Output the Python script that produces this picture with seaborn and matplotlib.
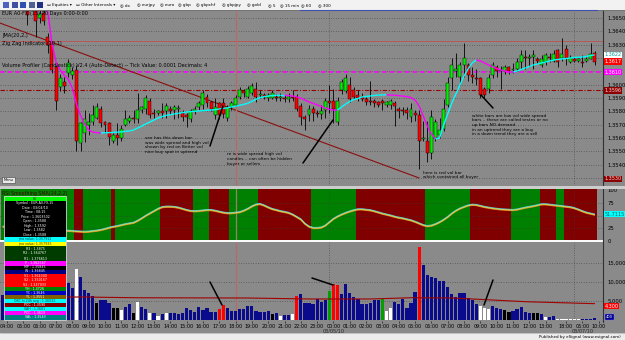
import numpy as np
import pandas as pd
import matplotlib
matplotlib.use("Agg")
import matplotlib.pyplot as plt
import matplotlib.patheffects as pe
from matplotlib.transforms import Affine2D, blended_transform_factory
from matplotlib.lines import Line2D
from matplotlib.patches import Rectangle
from matplotlib.collections import LineCollection
import seaborn as sns

# ------------------------------------------------------------------ data
# 15-minute EUR A0-FX bars, prices in pips above 1.3500
open_pips = [166,165,163,164,162,163,155,162,157,150,154,136,131,113,98,102,109,107,111,56,
             64,70,72,75,82,72,71,58,62,60,70,73,75,74,81,82,88,79,79,80,
             80,82,81,82,79,77,74,80,83,85,91,87,77,86,86,75,83,85,91,95,
             91,94,97,92,92,90,90,91,90,90,89,91,91,84,76,77,82,79,78,81,
             88,88,72,96,95,100,96,92,91,89,88,88,87,88,85,85,86,82,81,81,
             76,79,77,59,58,49,60,62,67,85,105,110,106,115,115,107,105,105,97,97,
             107,113,110,110,113,111,112,117,121,120,121,119,115,117,121,118,126,120,127,117,
             119,118,117,118,119,124]
high_pips = [170,168,167,168,166,167,162,166,160,156,157,139,133,115,108,106,119,113,115,72,
             81,79,85,86,84,73,72,64,71,70,81,77,81,94,84,92,90,82,81,86,
             86,84,85,85,81,79,82,84,88,96,93,88,90,87,90,85,88,92,98,97,
             99,101,102,96,94,94,96,93,94,92,94,96,93,86,77,85,84,81,85,90,
             100,97,91,104,108,106,98,96,94,91,103,89,88,89,88,89,88,83,83,83,
             86,81,81,73,73,81,74,75,89,106,120,124,117,131,116,113,112,106,98,108,
             117,115,114,115,114,116,120,126,126,123,126,121,122,124,124,126,127,135,130,122,
             121,120,122,121,131,125]
low_pips = [162,161,160,161,159,160,145,157,136,146,145,124,109,81,95,94,106,104,50,50,
            57,62,70,74,68,64,55,56,55,58,69,71,71,71,79,78,75,75,77,75,
            75,78,74,75,73,68,72,78,81,82,83,80,74,74,75,73,81,84,89,91,
            90,92,87,90,89,88,89,88,88,87,87,88,80,70,66,73,73,76,74,75,
            79,71,70,93,94,87,89,88,88,85,85,83,83,81,83,82,69,75,77,74,
            72,73,37,58,42,44,58,60,65,83,96,106,100,106,103,101,100,90,90,94,
            105,106,97,108,108,109,110,112,112,114,112,116,113,115,117,117,113,118,115,116,
            117,117,113,117,119,115]
close_pips = [165,163,164,162,163,161,152,160,148,153,148,130,111,88,105,99,116,110,58,71,
              74,72,77,83,71,70,61,62,60,67,74,75,74,81,83,90,77,78,80,79,
              84,80,83,82,76,76,80,82,86,94,86,82,83,77,78,83,86,90,96,94,
              97,99,91,93,91,92,94,90,91,89,91,90,82,76,74,82,79,78,80,88,
              86,82,88,102,105,89,91,90,89,87,87,86,85,86,87,88,84,80,80,79,
              82,77,58,60,49,76,72,66,82,101,115,112,115,120,107,106,104,92,92,105,
              115,110,111,113,110,112,117,122,120,121,122,118,119,122,120,123,117,123,120,120,
              118,119,116,119,123,117]
# JMA(20,2) in pips above 1.3500
jma_pips = [205,201,197,193,189,185,181,178,175,172,169,
            154,131,117,111,107,104,97.5,85.5,77,70.5,
            66,64.5,64,63.8,63.9,64,64.2,64.4,64.6,65,
            65.3,66,67.5,69,70.5,72,73.5,75,76,77,
            77.5,78,78.5,79,79.5,79.8,80,80.3,80.5,80.8,
            81,81.2,81.8,82.2,82.6,83.3,83.8,84.5,85.2,86,
            87.5,89,90.3,91,91.5,91.8,92,92.1,92.1,91.9,
            91.5,90.8,89.8,88.5,87,86,84.8,83.7,82.5,81.4,
            81,80.9,83.3,85.5,87.4,88.9,89.6,90.8,91.1,91.5,
            91.9,92.2,92.3,92.4,92.2,92.1,91.8,91.4,91,90.3,
            88.5,84,76.5,69,63,59.3,60,69.8,78,86.3,
            93,99.8,106.5,111.8,116.3,118.5,117.8,116.3,114.8,113.3,
            112.1,111,110.3,109.5,109.4,110.3,111.4,112.5,113.6,114.8,
            115.5,116.3,117,117.8,118.5,118.9,119.3,119.6,120,120.4,
            120.5,120.8,121.1,121.9,122.3]
rsi_vals = [28,28,27,26,25,24,23.5,22.5,21.5,20.5,20.5,20,20,20,20,20,
            20,19.3,18.8,18.3,17.9,18.3,19.3,20.2,21.6,23.5,
            25.9,27.7,29.1,31,32.9,34.3,35.7,39.5,44.2,49.4,
            54,58.8,63,66.3,67.2,67.2,66.7,65.3,63,60.6,
            58.8,58.3,58.8,59.7,60.6,60.6,59.2,57.3,55.5,54.5,
            54.5,55.5,56.4,59.2,63,67.7,71.4,72.4,69.6,65.8,
            62.5,60.6,58.3,56.9,55,51.7,47,42.3,33.8,28.2,
            25.4,25.4,26.3,30.1,36.7,43.2,47.9,51.7,55,57.8,
            60.2,62,62,61.1,60.2,58.3,55.9,53.6,51.7,49.8,
            47.5,45.6,44.2,42.3,40.4,37.6,34.3,31,29.1,30.1,
            32.9,36.7,41.4,47,53.6,59.2,63.5,66.7,69.6,71,
            70.5,68.6,66.7,65.3,63.9,63,62,61.6,61.1,60.6,
            61.6,63.5,65.3,66.7,68.2,70,71.9,71.9,71,70,
            69.1,68.2,67.2,66.3,64.4,61.6,58.3,55.5,53.6,51.7115]
volume = [6500,5800,7200,6900,8000,7400,9100,8800,9900,8300,9500,10200,11800,12500,9800,9300,
          9740,8420,13420,11320,7900,7110,6320,4470,5260,5260,
          4470,3160,3160,2630,3420,4210,1840,4740,3420,2900,
          1840,1840,1050,1580,1840,1840,1840,1580,1840,3160,
          2630,2110,3420,2630,3160,2110,2110,2900,3950,3160,
          2370,2370,2900,2900,3680,3680,2370,2110,2110,2370,
          1580,1840,1050,1320,1320,1580,6320,6840,4470,4470,
          4210,5530,4740,5260,7630,9480,9210,6840,9480,7110,
          6050,5530,4210,4210,4470,5260,5260,5530,2370,3160,
          4740,4210,5530,3160,4470,7370,19210,14480,11840,11320,
          11050,10260,10260,8690,6840,6050,7110,7110,5790,5260,
          4210,3680,3160,2900,3680,3160,2900,2630,2110,2370,
          2900,3420,2110,1840,1840,1840,1580,790,790,1050,
          250,200,220,180,240,200,300,350,280,400]
# Better-volume bar class: b=normal, w=low vol wide spread, k=low vol churn, r=climax, g=churn
vol_kind = list("bbbbbbbbbbbbbbbb" "bbwbbbbkbb" "bkkwbbkwbb" "wbwbwbbbbb" "bbbbbbbrrb"
                "bbbbbbbbbb" "kbwbbwrbbb" "bbbbgrrbbb" "bbbbbbbgww" "bbbbbbrbbb"
                "bbbbbbbbbb" "bwwwbbbkkb" "bbbbkkbwbb" "wwwwwwbbbb")
vol_ma_idx = [0, 20, 33, 60, 75, 90, 100, 110, 120, 128, 145]
vol_ma_val = [6050, 6050, 5850, 5790, 5530, 5530, 5860, 5800, 5260, 4820, 4300]
# RSI trend bands (first bar of each run)
band_start = [0, 18, 20, 27, 28, 39, 47, 51, 56, 63, 76, 87, 104, 115, 125, 132, 136, 138]
band_state = ["up", "down", "up", "down", "up", "down", "up", "down", "up", "down",
              "up", "down", "up", "down", "up", "down", "up", "down"]
# Zig Zag leg (bar index, pips)
zz_idx = [-1, 102]
zz_pips = [146.5, 30]
# horizontal levels (pips)
prev_high_pips = 132.75
poc_pips = 109.5
pivot_pips = 96
day_sep_idx = [80, 140]
cursor_idx = 57
tick_pos = [1, 5, 9, 13, 17, 21, 25, 29, 33, 37, 41, 45, 49, 53, 57, 61, 65, 69, 73, 77,
            81, 85, 89, 93, 97, 101, 105, 109, 113, 117, 121, 125, 129, 133, 138, 142, 146]
tick_lab = ["04:00", "05:00", "06:00", "07:00", "08:00", "09:00", "10:00", "11:00", "12:00",
            "13:00", "14:00", "15:00", "16:00", "17:00", "18:00", "19:00", "20:00", "21:00",
            "22:00", "23:00", "00:00", "01:00", "02:00", "03:00", "04:00", "05:00", "06:00",
            "07:00", "08:00", "09:00", "10:00", "11:00", "12:00", "13:00", "18:00", "05:00", "10:00"]
date_pos = [81, 142]
date_lab = ["03/05/10", "03/07/10"]

# ------------------------------------------------------------------ figure
sns.set_theme(style="white")
plt.rcParams["font.family"] = ["DejaVu Sans"]

W, H = 625, 340
BG = "#8a8a8a"
fig = plt.figure(figsize=(W / 100, H / 100), dpi=100)
fig.patch.set_facecolor(BG)
T = Affine2D().scale(1.0 / W, -1.0 / H).translate(0, 1) + fig.transFigure


def add_ax(x0, y0, x1, y1):
    a = fig.add_axes([x0 / W, 1 - y1 / H, (x1 - x0) / W, (y1 - y0) / H])
    a.set_facecolor(BG)
    for s in a.spines.values():
        s.set_visible(False)
    return a


def ptxt(x, y, s, size=3.2, color="black", **kw):
    fig.text(x, y, s, transform=T, fontsize=size, color=color, **kw)


def pline(x0, y0, x1, y1, color="black", lw=1.0, z=6):
    fig.add_artist(Line2D([x0, x1], [y0, y1], transform=T, color=color, lw=lw, zorder=z))


def prect(x, y, w, h, fc, ec="none", z=5, lw=0.4):
    fig.add_artist(Rectangle((x, y), w, h, transform=T, fc=fc, ec=ec, lw=lw, zorder=z))


def vbox(y, s, fc, tc):
    ptxt(604.5, y, s, size=3.5, color=tc, va="center", zorder=8,
         bbox=dict(boxstyle="square,pad=0.15", fc=fc, ec="none"))


N = len(close_pips)
idx = np.arange(N)
px = lambda p: 1.35 + np.asarray(p, dtype=float) / 1e4
o, h, l, c = px(open_pips), px(high_pips), px(low_pips), px(close_pips)
jma = px(jma_pips)
XLIM = (-0.735, 147.06)
GRID = dict(ls=(0, (1, 2.5)), color="#3a3a3a", lw=0.5)

# ------------------------------------------------------------------ price panel
axp = add_ax(0, 11, 603, 186)
axp.set_xlim(*XLIM)
axp.set_ylim(1.3524, 1.365525)
yt = px(np.arange(30, 151, 10))
box_prices = [jma[-1], c[-1], px(poc_pips), px(zz_pips[-1])]
axp.set_yticks(yt)
axp.set_yticklabels([f"{v:.4f}" if min(abs(v - b) for b in box_prices) > 0.00035 else ""
                     for v in yt])
axp.yaxis.tick_right()
axp.tick_params(axis="y", length=0, pad=3, labelsize=3.8, labelcolor="black")
axp.tick_params(axis="x", bottom=False, labelbottom=False)
for v in yt:
    axp.axhline(v, zorder=0.5, **GRID)
for d in day_sep_idx:
    axp.axvline(d, zorder=0.5, **GRID)

axp.axhline(px(prev_high_pips), color="#c05050", lw=0.6, zorder=1)
axp.axhline(px(poc_pips), color="#ff00ff", lw=1.1, ls=(0, (3, 2)), zorder=1)
axp.axhline(px(pivot_pips), color="#9a0000", lw=0.8, ls=(0, (4, 1.5, 1, 1.5)), zorder=1)
axp.plot(zz_idx, px(zz_pips), color="#8b0f0f", lw=0.8, zorder=1.5)

up = c >= o
axp.vlines(idx, l, h, color="black", lw=0.6, zorder=3)
axp.bar(idx[up], np.maximum((c - o)[up], 0.00002), bottom=o[up], width=0.72,
        color="#00ee00", edgecolor="black", lw=0.3, zorder=4)
axp.bar(idx[~up], (o - c)[~up], bottom=c[~up], width=0.72,
        color="#ff0000", edgecolor="black", lw=0.3, zorder=4)

seg = np.stack([np.column_stack([idx[:-1], jma[:-1]]), np.column_stack([idx[1:], jma[1:]])], axis=1)
seg_col = ["#ff00ff" if d < 0 else "#00ffff" for d in np.diff(jma)]
axp.add_collection(LineCollection(seg, colors=seg_col, linewidths=1.0, zorder=5))
axp.axvline(cursor_idx, color="#b86a6a", lw=0.9, zorder=2)

# header texts inside the price panel
ptxt(2, 14, "EUR A0-FX (15) 20 Days 0:00-0:00", size=3.6, va="center", zorder=0.9)
ptxt(2, 36, "JMA(20,2,)", size=3.6, va="center")
ptxt(2, 43, "Zig Zag Indicator (10,1)", size=3.6, va="center")
ptxt(2, 66, "Volume Profiler (Candlestick) V2.4 (Auto-Detect) -- Tick Value: 0.0001 Decimals: 4",
     size=3.6, va="center")
prect(2, 177, 13, 6, "#e8e8e8", ec="#404040", z=6)
ptxt(8.5, 180, "Menu", size=2.6, ha="center", va="center", zorder=7)

# annotations
ptxt(145, 145, "see has this down bar\nwas wide spread and high vol\nshown by red on Better vol\nnice buy spot in uptrend",
     size=3.1, va="center", linespacing=1.25, zorder=7)
ptxt(227, 159, "re is wide spread high vol\ncandles .. can often be hidden\nbuyer or sellers",
     size=3.1, va="center", linespacing=1.25, zorder=7)
ptxt(472, 125, "white bars are low vol wide spread\nbars .. these are called testes or no\nup bars NO demand\nin an uptrend they are a buy\nin a down trend they are a sell",
     size=3.1, va="center", linespacing=1.2, zorder=7)
ptxt(423, 175, "here is red vol bar\nwhich contained all buyer", size=3.1, va="center",
     linespacing=1.25, zorder=7)
pline(210, 146, 223, 106, lw=1.1)
pline(303, 163, 333, 120, lw=1.1)
pline(493, 108, 481, 95, lw=1.1)
pline(210, 282, 222, 305, lw=1.1)
pline(312, 278, 333, 285, lw=1.1)
pline(493, 280, 484, 305, lw=1.1)

# right-axis value boxes
vbox(55, f"{jma[-1]:.4f}", "white", "#00a0a0")
vbox(61.5, f"{c[-1]:.4f}", "#ff0000", "white")
vbox(72, f"{px(poc_pips):.4f}", "#ff00ff", "white")
vbox(90.5, f"{px(pivot_pips):.4f}", "#8b0000", "#ffd0d0")
vbox(179, f"{px(zz_pips[-1]):.4f}", "#8b0000", "#ffd0d0")

# ------------------------------------------------------------------ RSI panel
axr = add_ax(0, 189, 603, 243)
axr.set_xlim(*XLIM)
axr.set_ylim(-3.9, 102)
ends = band_start[1:] + [N]
bcol = {"up": "#008000", "down": "#800000"}
axr.bar(np.array(band_start) - 0.5, 102, width=np.array(ends) - np.array(band_start),
        bottom=0, align="edge", color=[bcol[s] for s in band_state], lw=0, zorder=1)
for v in (25, 50, 75):
    axr.axhline(v, zorder=1.5, **GRID)
for d in day_sep_idx:
    axr.axvline(d, zorder=1.5, **GRID)
sns.lineplot(x=idx, y=rsi_vals, ax=axr, color="#c8e060", lw=0.7, zorder=3,
             path_effects=[pe.SimpleLineShadow(offset=(0, -0.45), shadow_color="#f08020", alpha=1),
                           pe.SimpleLineShadow(offset=(0, 0.45), shadow_color="#50c8f0", alpha=1),
                           pe.Normal()])
axr.axhline(0, color="white", lw=1.4, zorder=4)
axr.axvline(cursor_idx, color="#c08080", lw=0.9, alpha=0.8, zorder=2)
axr.set_yticks([0, 25, 50, 75, 100])
axr.set_yticklabels(["0", "25", "", "75", "100"])
axr.yaxis.tick_right()
axr.tick_params(axis="y", length=0, pad=3, labelsize=3.8, labelcolor="black")
axr.tick_params(axis="x", bottom=False, labelbottom=False)
axr.set_xlabel(""); axr.set_ylabel("")
ptxt(2, 193, "RSI Smoothing SMA(14,2,2)", size=3.4, color="#400000", va="center", zorder=4)
vbox(214, f"{rsi_vals[-1]:.4f}", "#00ffff", "#006060")

# ------------------------------------------------------------------ volume panel
axv = add_ax(0, 243, 603, 321)
vdf = pd.DataFrame({"bar": idx, "vol": volume, "kind": vol_kind})
vpal = {"b": "#0a0a8c", "w": "#ffffff", "k": "#000000", "r": "#ff0000", "g": "#00a000"}
sns.barplot(data=vdf, x="bar", y="vol", hue="kind", palette=vpal, native_scale=True,
            dodge=False, width=0.78, errorbar=None, saturation=1, legend=False,
            linewidth=0, ax=axv, zorder=3)
axv.plot(vol_ma_idx, vol_ma_val, color="#a00000", lw=0.8, zorder=4)
for v in (5000, 10000, 15000):
    axv.axhline(v, zorder=0.5, **GRID)
for d in day_sep_idx:
    axv.axvline(d, zorder=0.5, **GRID)
axv.axvline(cursor_idx, color="#b86a6a", lw=0.9, zorder=2)
axv.set_xlim(*XLIM)
axv.set_ylim(-263, 20266)
axv.set_yticks([5000, 10000, 15000])
axv.set_yticklabels(["5,000", "10,000", "15,000"])
axv.yaxis.tick_right()
axv.tick_params(axis="y", length=0, pad=3, labelsize=3.8, labelcolor="black")
axv.set_xticks(tick_pos)
axv.set_xticklabels(tick_lab)
axv.tick_params(axis="x", length=1.2, width=0.4, pad=0.8, labelsize=3.5, labelcolor="black",
                color="black", bottom=True)
axv.set_xlabel(""); axv.set_ylabel("")
bt = blended_transform_factory(axv.transData, T)
for p, s in zip(date_pos, date_lab):
    axv.text(p, 331, s, transform=bt, fontsize=3.5, ha="center", va="center", clip_on=False)
vbox(306, f"{vol_ma_val[-1]:,.0f}", "#ff0000", "white")
ptxt(606, 317, f"{volume[-1]:.0f}", size=2.6, color="white", va="center", zorder=8,
     bbox=dict(boxstyle="square,pad=0.15", fc="#000090", ec="#8080ff", lw=0.3))

# ------------------------------------------------------------------ chrome
pline(603, 10, 603, 322, color="#303030", lw=0.8, z=3)
prect(0, 186, 625, 3, "#cccccc", z=3)
# toolbar
prect(0, 0, 625, 10, "#f2f2f2", z=3)
pline(0, 10, 625, 10, color="#707070", lw=0.6, z=4)
pline(300, 10, 597, 10, color="#4050b0", lw=0.8, z=4)
for i, col in enumerate(["#5060c0", "#4050a0", "#3050b0", "#506090", "#203080"]):
    prect(3 + i * 8.5, 2, 6, 6, col, z=4)
tool_items = [(47, "\u25ad Equities \u25be"), (76, "\u25ad Other Intervals \u25be"), (120, "\u25ce dx"),
              (137, "\u25ce eurjpy"), (160, "\u25ce euro"), (178, "\u25ce gbp"), (196, "\u25ce gbpchf"),
              (222, "\u25ce gbpjpy"), (247, "\u25ce gold"), (268, "\u25ce 5"), (280, "\u25ce 15 min"),
              (301, "\u25ce 60"), (318, "\u25ce 300")]
for xx, s in tool_items:
    ptxt(xx, 5, s, size=3.0, va="center", zorder=5)
# status bar
prect(0, 333, 625, 7, "#ececec", z=3)
pline(0, 333, 625, 333, color="#b0b0b0", lw=0.5, z=4)
ptxt(621, 337, "Published by eSignal (www.esignal.com)", size=2.9, ha="right", va="center", zorder=5)

# data window overlay
dw_rows = [("EU", 196, 5, "#00ff00", "#004000"),
           ("Symbol : EUR A0-FX,15", 201, 4.5, "#000000", "white"),
           ("Date : 03/04/10", 205.5, 4.5, "#000000", "white"),
           ("Time : 08:15", 210, 4.5, "#000000", "white"),
           ("Price : 1.3603502", 214.5, 4.5, "#000000", "white"),
           ("Open : 1.3588", 219, 4.5, "#000000", "white"),
           ("High : 1.3592", 223.5, 4.5, "#000000", "white"),
           ("Low : 1.3582", 228, 4.5, "#000000", "white"),
           ("Close : 1.3588", 232.5, 4.5, "#000000", "white"),
           ("jma value: 1.357912", 237, 4.5, "#00ffff", "#004040"),
           ("jma value: 1.357935", 241.5, 4.5, "#ffff00", "#404000"),
           ("R3 : 1.3875", 246, 5, "#003c00", "white"),
           ("R2 : 1.364767", 251, 5, "#003c00", "white"),
           ("R1 : 1.376613", 256, 5, "#003c00", "white"),
           ("P : 1.362567", 261, 4.5, "#ff00ff", "white"),
           ("MP : 1.35845", 265.5, 4, "#000000", "white"),
           ("W : 1.36845", 269.5, 4, "#000080", "white"),
           ("S1 : 1.364300", 273.5, 4.5, "#ff0000", "white"),
           ("S2 : 1.350167", 278, 4.5, "#ff0000", "white"),
           ("S3 : 1.347033", 282.5, 4.5, "#ff0000", "white"),
           ("YH : 1.3726", 287, 4, "#008000", "white"),
           ("YC : 1.3646", 291, 4, "#0000c0", "white"),
           ("YL : 1.3551", 295, 4, "#806000", "white"),
           ("ORC hi 24h avg : 1.36032", 299, 4, "#00ffff", "#004040"),
           ("POC : 1.3590", 303, 4, "#800000", "white"),
           ("VAH : 1.3681", 307, 4, "#00ffff", "#004040"),
           ("POC : 1.3619", 311, 4, "#ff00ff", "white"),
           ("VAL : 1.3543", 315, 5, "#008080", "white")]
for s, yy, hh, bg, fg in dw_rows:
    prect(4, yy, 62, hh, bg, z=7)
    ptxt(35, yy + hh / 2, s, size=2.3, color=fg, ha="center", va="center", zorder=8)
prect(4, 196, 62, 124, "none", ec="#d0d0d0", z=8, lw=0.6)

fig.savefig("out.png", dpi=100, facecolor=fig.get_facecolor())
